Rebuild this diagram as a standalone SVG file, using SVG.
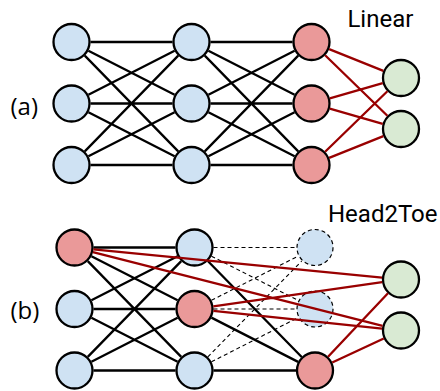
<svg xmlns="http://www.w3.org/2000/svg" width="440" height="391" viewBox="0 0 440 391">
<style>
.n{stroke:#000;stroke-width:2.3}
.b{fill:#cfe2f3}
.r{fill:#ea9999}
.g{fill:#d9ead3}
.d{fill:#cfe2f3;stroke:#000;stroke-width:1.2;stroke-dasharray:4 3}
.k{stroke:#000;stroke-width:2.3;fill:none}
.kd{stroke:#000;stroke-width:1.1;stroke-dasharray:4 3;fill:none}
.rl{stroke:#990000;stroke-width:2.3;fill:none}
.t{font-family:Roboto,"Liberation Sans",sans-serif;font-size:24px;fill:#000}
.p{font-family:"Open Sans","Noto Sans",sans-serif;font-size:24px;fill:#000}
</style>
<rect width="440" height="391" fill="#fff"/>
<g id="nodes">
<g id="a-in1"><circle class="n b" cx="71.5" cy="42" r="18"/></g>
<g id="a-in2"><circle class="n b" cx="71.5" cy="103.5" r="18"/></g>
<g id="a-in3"><circle class="n b" cx="71.5" cy="165" r="18"/></g>
<g id="a-h1"><circle class="n b" cx="191.5" cy="42" r="18"/></g>
<g id="a-h2"><circle class="n b" cx="191.5" cy="103.5" r="18"/></g>
<g id="a-h3"><circle class="n b" cx="191.5" cy="165" r="18"/></g>
<g id="a-o1"><circle class="n r" cx="311.5" cy="42" r="18"/></g>
<g id="a-o2"><circle class="n r" cx="311.5" cy="103.5" r="18"/></g>
<g id="a-o3"><circle class="n r" cx="311.5" cy="165" r="18"/></g>
<g id="a-g1"><circle class="n g" cx="401" cy="78" r="18"/></g>
<g id="a-g2"><circle class="n g" cx="401" cy="129" r="18"/></g>
<g id="b-in1"><circle class="n r" cx="74.5" cy="247.5" r="18"/></g>
<g id="b-in2"><circle class="n b" cx="74.5" cy="309" r="18"/></g>
<g id="b-in3"><circle class="n b" cx="74.5" cy="370.5" r="18"/></g>
<g id="b-h1"><circle class="n b" cx="194.5" cy="247.5" r="18"/></g>
<g id="b-h2"><circle class="n r" cx="194.5" cy="309" r="18"/></g>
<g id="b-h3"><circle class="n b" cx="194.5" cy="370.5" r="18"/></g>
<g id="b-o1"><circle class="d" cx="315" cy="247.5" r="18"/></g>
<g id="b-o2"><circle class="d" cx="315" cy="309" r="18"/></g>
<g id="b-o3"><circle class="n r" cx="315" cy="370.5" r="18"/></g>
<g id="b-g1"><circle class="n g" cx="401" cy="279.5" r="18"/></g>
<g id="b-g2"><circle class="n g" cx="401" cy="330.5" r="18"/></g>
</g>
<g id="connectors">
<g class="k">
<path d="M90.5,42L172.5,42M88.41,50.67L174.59,94.83M84.77,55.6L178.23,151.4M88.41,94.83L174.59,50.67M90.5,103.5L172.5,103.5M88.41,112.17L174.59,156.33M84.77,151.4L178.23,55.6M88.41,156.33L174.59,112.17M90.5,165L172.5,165"/>
<path d="M210.5,42L292.5,42M208.41,50.67L294.59,94.83M204.77,55.6L298.23,151.4M208.41,94.83L294.59,50.67M210.5,103.5L292.5,103.5M208.41,112.17L294.59,156.33M204.77,151.4L298.23,55.6M208.41,156.33L294.59,112.17M210.5,165L292.5,165"/>
<path d="M93.5,247.5L175.5,247.5M91.41,256.17L177.59,300.33M87.77,261.1L181.23,356.9M91.41,300.33L177.59,256.17M93.5,309L175.5,309M91.41,317.67L177.59,361.83M87.77,356.9L181.23,261.1M91.41,361.83L177.59,317.67M93.5,370.5L175.5,370.5"/>
<path d="M207.8,261.07L301.7,356.93M211.42,317.64L298.08,361.86M213.5,370.5L296,370.5"/>
</g>
<path class="kd" d="M213.5,247.5L296,247.5M211.42,256.14L298.08,300.36M211.42,300.36L298.08,256.14M213.5,309L296,309M207.8,356.93L301.7,261.07M211.42,361.86L298.08,317.64"/>
<path class="rl" d="M329.13,49.09L383.37,70.91M325.12,55.24L387.38,115.76M329.77,98.29L382.73,83.21M329.77,108.71L382.73,123.79M325.12,151.76L387.38,91.24M329.13,157.91L383.37,136.09"/>
<path class="rl" d="M93.41,249.35L382.09,277.65M92.91,252.18L382.59,325.82M213.31,306.31L382.19,282.19M213.4,310.97L382.1,328.53M328.05,356.69L387.95,293.31M332.23,362.49L383.77,338.51"/>
</g>
<g id="labels">
<text class="t" x="347.4" y="27">Linear</text>
<text class="t" x="328" y="222">Head2Toe</text>
<text class="p" x="10.5" y="114.5">(a)</text>
<text class="p" x="10.5" y="318.5">(b)</text>
</g>
</svg>
